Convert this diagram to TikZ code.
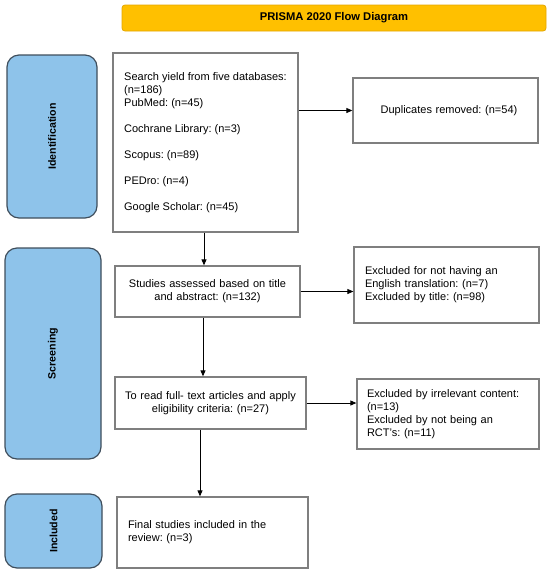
\documentclass[tikz,border=0pt]{standalone}
\usepackage{fontspec}
\setmainfont{Liberation Sans}
\usetikzlibrary{arrows.meta}
\frenchspacing
\definecolor{phase}{HTML}{8EC3EA}
\definecolor{phaseline}{HTML}{3F4E5C}
\definecolor{titlefill}{HTML}{FFC000}
\definecolor{titleline}{HTML}{E3A600}
\definecolor{boxline}{HTML}{7F7F7F}
\begin{document}
\begin{tikzpicture}[x=1pt,y=-1pt,
  every node/.style={font=\fontsize{11}{13}\selectfont\frenchspacing},
  box/.style={draw=boxline,line width=1.3pt,fill=white,inner xsep=10pt,inner ysep=0pt},
  phasebox/.style={draw=phaseline,fill=phase,line width=1.2pt,rounded corners=12pt,inner sep=0pt},
  phaselabel/.style={font=\fontsize{10.6}{12}\selectfont\bfseries,rotate=90},
  arr/.style={draw=black,line width=0.8pt,-{Triangle[length=6pt,width=5pt]}}]
\useasboundingbox (0,0) rectangle (550,574);
% title
\node[draw=titleline,fill=titlefill,line width=0.8pt,rounded corners=3pt,minimum width=424,minimum height=26,inner sep=0pt,font=\fontsize{11.2}{13}\selectfont\bfseries] (title) at (334,18) {PRISMA 2020 Flow Diagram};
% phases
\node[phasebox,minimum width=90,minimum height=163] (ident) at (52,136.5) {};
\node[phaselabel] (identl) at (ident.center) {Identification};
\node[phasebox,minimum width=96,minimum height=211] (screen) at (53,353.5) {};
\node[phaselabel] (screenl) at (screen.center) {Screening};
\node[phasebox,minimum width=97,minimum height=74] (incl) at (53.5,531) {};
\node[phaselabel] (incll) at (incl.center) {Included};
% boxes
\node[box,minimum width=185,minimum height=179,align=left] (search) at (205.5,142.5) {Search yield from five databases:\\(n=186)\\PubMed: (n=45)\\[13pt]Cochrane Library: (n=3)\\[13pt]Scopus: (n=89)\\[13pt]PEDro: (n=4)\\[13pt]Google Scholar: (n=45)};
\node[box,minimum width=185,minimum height=65,text width=165,align=center] (dup) at (445.5,110.5) {\hspace*{7pt}Duplicates removed: (n=54)};
\node[box,minimum width=185,minimum height=51,text width=175,inner xsep=5pt,align=center] (studies) at (207.5,291.5) {Studies assessed based on title\\and abstract: (n=132)};
\node[box,minimum width=185,minimum height=76,text width=163,inner xsep=11pt,align=left] (excl1) at (446.5,285) {Excluded for not having an\\English translation: (n=7)\\Excluded by title: (n=98)};
\node[box,minimum width=191,minimum height=52,text width=185,inner xsep=3pt,align=center] (read) at (210.5,403) {To read full- text articles and apply\\eligibility criteria: (n=27)};
\node[box,minimum width=182,minimum height=70,text width=162,align=left] (excl2) at (448,414) {Excluded by irrelevant content:\\(n=13)\\Excluded by not being an\\RCT's: (n=11)\\[3pt]};
\node[box,minimum width=191,minimum height=71,text width=169,inner xsep=11pt,align=left] (final) at (212.5,532.5) {Final studies included in the\\review: (n=3)};
% arrows
\draw[arr] (dup.west -| search.east) -- (dup.west);
\draw[arr] ([xshift=-1.5pt]search.south) -- ([xshift=-1.5pt]search.south |- studies.north);
\draw[arr] (studies.east) -- (studies.east -| excl1.west);
\draw[arr] ([xshift=-4.5pt]studies.south) -- ([xshift=-4.5pt]studies.south |- read.north);
\draw[arr] (read.east) -- (read.east -| excl2.west);
\draw[arr] ([xshift=-10.5pt]read.south) -- ([xshift=-10.5pt]read.south |- final.north);
\end{tikzpicture}
\end{document}
